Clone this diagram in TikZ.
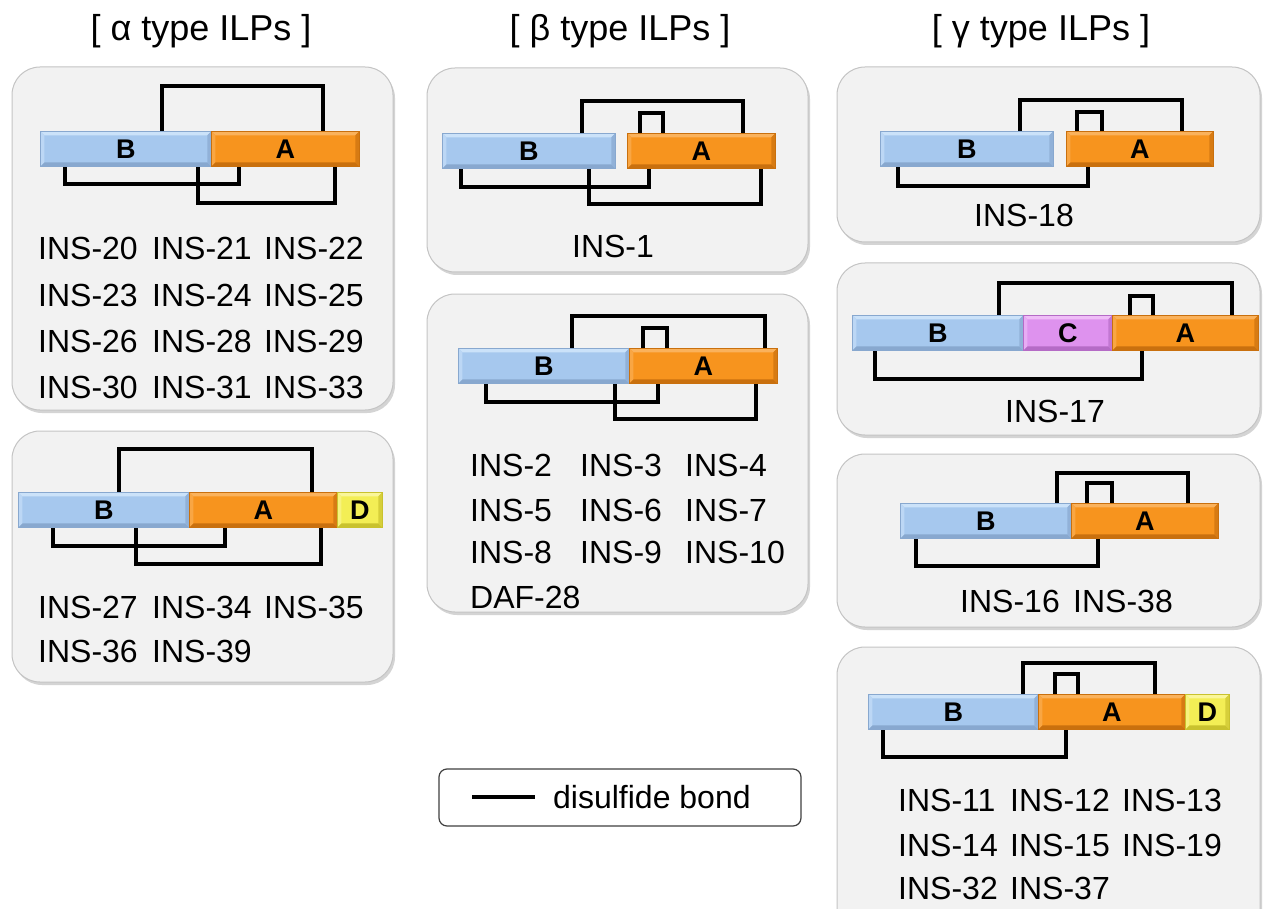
\documentclass[tikz,border=0pt]{standalone}
\usepackage{fontspec}
\setmainfont{Liberation Sans}
\usetikzlibrary{shadows}
\definecolor{panelfill}{HTML}{F2F2F2}
\definecolor{panelline}{HTML}{C4C4C4}
\definecolor{blueM}{HTML}{A6C8EE}
\definecolor{blueT}{HTML}{CBE2F9}
\definecolor{blueD}{HTML}{88A8CF}
\definecolor{orM}{HTML}{F7941E}
\definecolor{orT}{HTML}{FAB25C}
\definecolor{orD}{HTML}{C9700E}
\definecolor{puM}{HTML}{DE92EE}
\definecolor{puT}{HTML}{EFBDF7}
\definecolor{puD}{HTML}{B56BC6}
\definecolor{yeM}{HTML}{F3EE55}
\definecolor{yeT}{HTML}{FAF69A}
\definecolor{yeD}{HTML}{C9C22E}
\tikzset{
  panel/.style={draw=panelline, fill=panelfill, line width=1pt, rounded corners=28pt,
    drop shadow={shadow xshift=2pt, shadow yshift=-3pt, opacity=0.3, fill=black!55}},
  bevel/.style n args={3}{fill=#1, draw=#3, line width=0.6pt,
    path picture={
      \fill[#2] (path picture bounding box.north west) -- (path picture bounding box.north east)
        -- ([xshift=-4pt,yshift=-4pt]path picture bounding box.north east)
        -- ([xshift=4pt,yshift=-4pt]path picture bounding box.north west) -- cycle;
      \fill[#3] (path picture bounding box.south west) -- (path picture bounding box.south east)
        -- ([xshift=-4pt,yshift=4pt]path picture bounding box.south east)
        -- ([xshift=4pt,yshift=4pt]path picture bounding box.south west) -- cycle;
      \fill[#3!70!#1] (path picture bounding box.north east) -- (path picture bounding box.south east)
        -- ([xshift=-4pt,yshift=4pt]path picture bounding box.south east)
        -- ([xshift=-4pt,yshift=-4pt]path picture bounding box.north east) -- cycle;
      \fill[#2!60!#1] (path picture bounding box.north west) -- (path picture bounding box.south west)
        -- ([xshift=4pt,yshift=4pt]path picture bounding box.south west)
        -- ([xshift=4pt,yshift=-4pt]path picture bounding box.north west) -- cycle;
    }},
  bar/.style={inner sep=0pt, anchor=north west, minimum height=35pt,
    font=\bfseries\fontsize{27}{27}\selectfont},
  barB/.style={bar, bevel={blueM}{blueT}{blueD}},
  barA/.style={bar, bevel={orM}{orT}{orD}},
  barC/.style={bar, bevel={puM}{puT}{puD}},
  barD/.style={bar, bevel={yeM}{yeT}{yeD}},
  bond/.style={line width=3.2pt, line join=miter},
  lbl/.style={anchor=west, inner sep=0pt, font=\fontsize{32}{38}\selectfont},
  clbl/.style={anchor=center, inner sep=0pt, font=\fontsize{32}{38}\selectfont},
  title/.style={anchor=center, inner sep=0pt, font=\fontsize{36}{40}\selectfont},
}
\begin{document}
\begin{tikzpicture}[x=1pt,y=-1pt]
\useasboundingbox (0,0) rectangle (1263,909);
\fill[white] (0,0) rectangle (1263,909);

% titles
\node[title] (ta) at (201,31) {[ α type ILPs ]};
\node[title] (tb) at (620,31) {[ β type ILPs ]};
\node[title] (tg) at (1041,31) {[ γ type ILPs ]};

% panels
\draw[panel] (12,67) rectangle (393,410);
\draw[panel] (12,431) rectangle (393,682);
\draw[panel] (427,68) rectangle (808,272);
\draw[panel] (427,294) rectangle (808,612);
\draw[panel] (837,67) rectangle (1260,242);
\draw[panel] (837,263) rectangle (1260,435);
\draw[panel] (837,454) rectangle (1260,627);
\draw[panel] (837,647) rectangle (1260,940);

% ---------- alpha 1 ----------
\draw[bond] (162,133) -- (162,86) -- (323,86) -- (323,133);
\draw[bond] (65,164) -- (65,184) -- (239,184) -- (239,164);
\draw[bond] (198,164) -- (198,203) -- (335,203) -- (335,164);
\node[barB, minimum width=171pt] (a1B) at (40,131) {B};
\node[barA, minimum width=148pt] (a1A) at (211,131) {A};
\node[lbl] (l20) at (38,248) {INS-20};
\node[lbl] (l21) at (152,248) {INS-21};
\node[lbl] (l22) at (264,248) {INS-22};
\node[lbl] (l23) at (38,295) {INS-23};
\node[lbl] (l24) at (152,295) {INS-24};
\node[lbl] (l25) at (264,295) {INS-25};
\node[lbl] (l26) at (38,341) {INS-26};
\node[lbl] (l28) at (152,341) {INS-28};
\node[lbl] (l29) at (264,341) {INS-29};
\node[lbl] (l30) at (38,387) {INS-30};
\node[lbl] (l31) at (152,387) {INS-31};
\node[lbl] (l33) at (264,387) {INS-33};

% ---------- alpha 2 ----------
\draw[bond] (119,494) -- (119,449) -- (312,449) -- (312,494);
\draw[bond] (53,524) -- (53,546) -- (225,546) -- (225,524);
\draw[bond] (136,524) -- (136,564) -- (321,564) -- (321,524);
\node[barB, minimum width=171pt] (a2B) at (18,492) {B};
\node[barA, minimum width=148pt] (a2A) at (189,492) {A};
\node[barD, minimum width=45pt] (a2D) at (337,492) {D};
\node[lbl] (l27) at (38,607) {INS-27};
\node[lbl] (l34) at (152,607) {INS-34};
\node[lbl] (l35) at (264,607) {INS-35};
\node[lbl] (l36) at (38,651) {INS-36};
\node[lbl] (l39) at (152,651) {INS-39};

% ---------- beta 1 ----------
\draw[bond] (582,135) -- (582,101) -- (743,101) -- (743,135);
\draw[bond] (640,135) -- (640,113) -- (663,113) -- (663,135);
\draw[bond] (461,165) -- (461,187) -- (649,187) -- (649,165);
\draw[bond] (589,165) -- (589,204) -- (761,204) -- (761,165);
\node[barB, minimum width=173pt] (b1B) at (442,133) {B};
\node[barA, minimum width=148pt] (b1A) at (627,133) {A};
\node[clbl] (l1) at (613,246) {INS-1};

% ---------- beta 2 ----------
\draw[bond] (572,350) -- (572,316) -- (765,316) -- (765,350);
\draw[bond] (643,350) -- (643,328) -- (667,328) -- (667,350);
\draw[bond] (486,380) -- (486,402) -- (658,402) -- (658,380);
\draw[bond] (615,380) -- (615,419) -- (756,419) -- (756,380);
\node[barB, minimum width=171pt] (b2B) at (458,348) {B};
\node[barA, minimum width=148pt] (b2A) at (629,348) {A};
\node[lbl] (l2) at (470,465) {INS-2};
\node[lbl] (l3) at (580,465) {INS-3};
\node[lbl] (l4) at (685,465) {INS-4};
\node[lbl] (l5) at (470,510) {INS-5};
\node[lbl] (l6) at (580,510) {INS-6};
\node[lbl] (l7) at (685,510) {INS-7};
\node[lbl] (l8) at (470,552) {INS-8};
\node[lbl] (l9) at (580,552) {INS-9};
\node[lbl] (l10) at (685,552) {INS-10};
\node[lbl] (daf) at (470,597) {DAF-28};

% ---------- gamma 1 ----------
\draw[bond] (1020,133) -- (1020,100) -- (1182,100) -- (1182,133);
\draw[bond] (1077,133) -- (1077,112) -- (1102,112) -- (1102,133);
\draw[bond] (898,164) -- (898,186) -- (1088,186) -- (1088,164);
\node[barB, minimum width=173pt] (g1B) at (880,131) {B};
\node[barA, minimum width=147pt] (g1A) at (1066,131) {A};
\node[clbl] (l18) at (1024,215) {INS-18};

% ---------- gamma 2 ----------
\draw[bond] (999,317) -- (999,283) -- (1232,283) -- (1232,317);
\draw[bond] (1130,317) -- (1130,296) -- (1153,296) -- (1153,317);
\draw[bond] (875,347) -- (875,379) -- (1142,379) -- (1142,347);
\node[barB, minimum width=171pt] (g2B) at (852,315) {B};
\node[barC, minimum width=89pt] (g2C) at (1023,315) {C};
\node[barA, minimum width=146pt] (g2A) at (1112,315) {A};
\node[clbl] (l17) at (1055,411) {INS-17};

% ---------- gamma 3 ----------
\draw[bond] (1057,505) -- (1057,473) -- (1188,473) -- (1188,505);
\draw[bond] (1087,505) -- (1087,483) -- (1112,483) -- (1112,505);
\draw[bond] (916,535) -- (916,566) -- (1098,566) -- (1098,535);
\node[barB, minimum width=171pt] (g3B) at (900,503) {B};
\node[barA, minimum width=147pt] (g3A) at (1071,503) {A};
\node[lbl] (l16) at (960,601) {INS-16};
\node[lbl] (l38) at (1073,601) {INS-38};

% ---------- gamma 4 ----------
\draw[bond] (1023,696) -- (1023,663) -- (1155,663) -- (1155,696);
\draw[bond] (1055,696) -- (1055,674) -- (1078,674) -- (1078,696);
\draw[bond] (883,726) -- (883,757) -- (1066,757) -- (1066,726);
\node[barB, minimum width=170pt] (g4B) at (868,694) {B};
\node[barA, minimum width=147pt] (g4A) at (1038,694) {A};
\node[barD, minimum width=44pt] (g4D) at (1185,694) {D};
\node[lbl] (l11) at (898,800) {INS-11};
\node[lbl] (l12) at (1010,800) {INS-12};
\node[lbl] (l13) at (1122,800) {INS-13};
\node[lbl] (l14) at (898,845) {INS-14};
\node[lbl] (l15) at (1010,845) {INS-15};
\node[lbl] (l19) at (1122,845) {INS-19};
\node[lbl] (l32) at (898,888) {INS-32};
\node[lbl] (l37) at (1010,888) {INS-37};

% ---------- legend ----------
\draw[draw=black!75, fill=white, line width=1.2pt, rounded corners=8pt] (439,769) rectangle (801,826);
\coordinate (lg1) at (472,797);
\coordinate (lg2) at (535,797);
\draw[bond, line width=3.6pt] (lg1) -- (lg2);
\node[lbl] (lgt) at (553,797) {disulfide bond};
\end{tikzpicture}
\end{document}
